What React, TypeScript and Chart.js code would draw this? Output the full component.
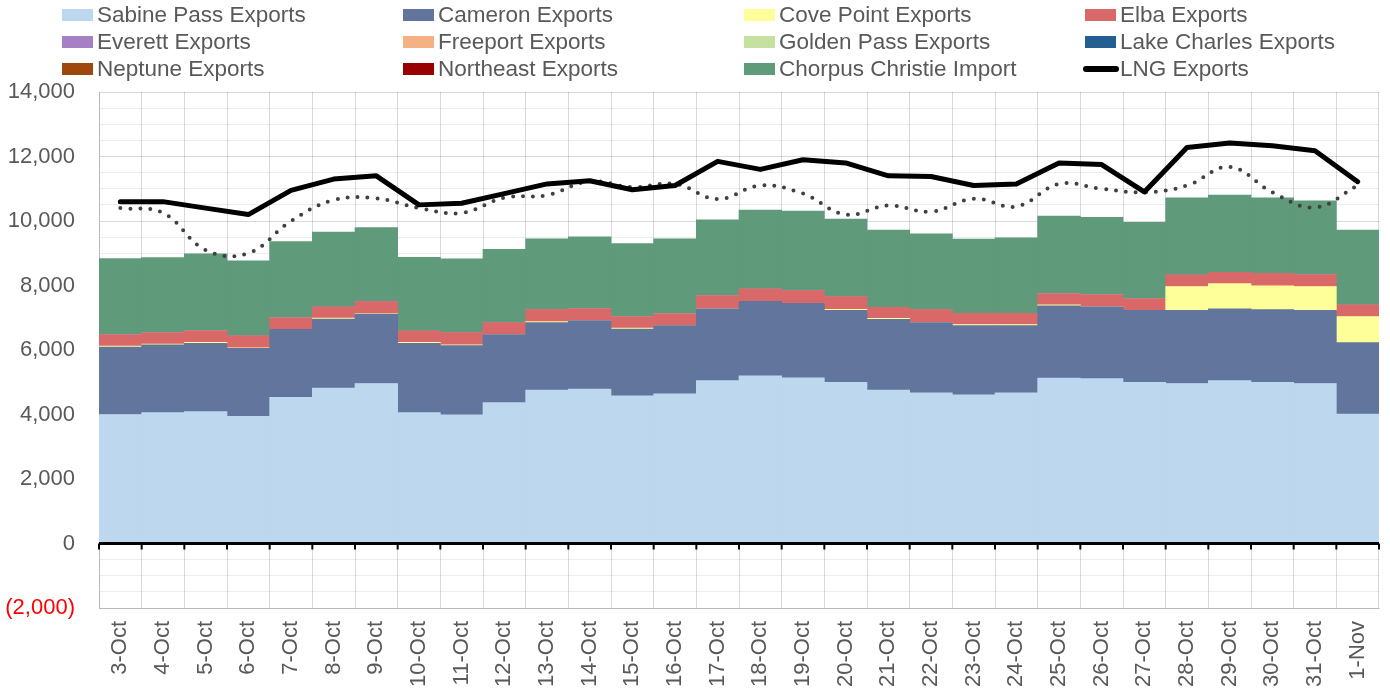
import React, { useEffect, useRef } from 'react';
import { Chart, registerables } from 'chart.js';

Chart.register(...registerables);

const categories = [
  '3-Oct', '4-Oct', '5-Oct', '6-Oct', '7-Oct', '8-Oct', '9-Oct', '10-Oct', '11-Oct', '12-Oct',
  '13-Oct', '14-Oct', '15-Oct', '16-Oct', '17-Oct', '18-Oct', '19-Oct', '20-Oct', '21-Oct', '22-Oct',
  '23-Oct', '24-Oct', '25-Oct', '26-Oct', '27-Oct', '28-Oct', '29-Oct', '30-Oct', '31-Oct', '1-Nov',
];

const sabinePass = [4000, 4060, 4090, 3940, 4530, 4820, 4960, 4060, 3990, 4370, 4760, 4790, 4580, 4640, 5050, 5200, 5140, 5000, 4760, 4670, 4610, 4670, 5130, 5110, 5000, 4960, 5050, 5000, 4960, 4010];
const cameron = [2090, 2100, 2115, 2110, 2110, 2140, 2150, 2145, 2150, 2110, 2090, 2120, 2070, 2120, 2230, 2310, 2310, 2230, 2190, 2180, 2150, 2090, 2240, 2230, 2230, 2270, 2230, 2250, 2270, 2220];
const covePoint = [30, 20, 30, 20, 0, 30, 20, 30, 20, 0, 30, 0, 30, 0, 0, 0, 0, 30, 30, 0, 30, 30, 30, 0, 0, 740, 780, 740, 740, 810];
const elba = [350, 350, 360, 360, 360, 340, 370, 350, 380, 370, 370, 370, 350, 360, 400, 380, 390, 400, 340, 400, 350, 350, 340, 370, 360, 350, 350, 390, 370, 350];
const everett = [0, 0, 0, 0, 0, 0, 0, 0, 0, 0, 0, 0, 0, 0, 0, 0, 0, 0, 0, 0, 0, 0, 0, 0, 0, 0, 0, 0, 0, 0];
const freeport = [0, 0, 0, 0, 0, 0, 0, 0, 0, 0, 0, 0, 0, 0, 0, 0, 0, 0, 0, 0, 0, 0, 0, 0, 0, 0, 0, 0, 0, 0];
const goldenPass = [0, 0, 0, 0, 0, 0, 0, 0, 0, 0, 0, 0, 0, 0, 0, 0, 0, 0, 0, 0, 0, 0, 0, 0, 0, 0, 0, 0, 0, 0];
const lakeCharles = [0, 0, 0, 0, 0, 0, 0, 0, 0, 0, 0, 0, 0, 0, 0, 0, 0, 0, 0, 0, 0, 0, 0, 0, 0, 0, 0, 0, 0, 0];
const neptune = [0, 0, 0, 0, 0, 0, 0, 0, 0, 0, 0, 0, 0, 0, 0, 0, 0, 0, 0, 0, 0, 0, 0, 0, 0, 0, 0, 0, 0, 0];
const northeast = [0, 0, 0, 0, 0, 0, 0, 0, 0, 0, 0, 0, 0, 0, 0, 0, 0, 0, 0, 0, 0, 0, 0, 0, 0, 0, 0, 0, 0, 0];
const chorpusChristie = [2365, 2335, 2390, 2335, 2360, 2330, 2295, 2290, 2285, 2270, 2200, 2230, 2270, 2325, 2360, 2450, 2470, 2400, 2400, 2350, 2300, 2335, 2410, 2400, 2370, 2400, 2390, 2340, 2285, 2330];
const lngExports = [10600, 10600, 10400, 10200, 10950, 11300, 11400, 10500, 10550, 10850, 11150, 11250, 10970, 11100, 11850, 11600, 11900, 11800, 11400, 11380, 11100, 11150, 11800, 11750, 10900, 12280, 12420, 12330, 12180, 11220];
const trendLine = [10400, 10250, 9100, 9000, 10000, 10650, 10700, 10400, 10250, 10720, 10800, 11230, 11050, 11150, 10680, 11100, 10850, 10200, 10480, 10290, 10690, 10450, 11150, 11000, 10890, 11100, 11680, 10890, 10420, 11100];

const yMin = -2000;
const yMax = 14000;
const yStep = 500;
const yLabelStep = 2000;

const barSeries = [
  { name: 'Sabine Pass Exports', data: sabinePass, color: '#BDD7EE' },
  { name: 'Cameron Exports', data: cameron, color: '#62759C' },
  { name: 'Cove Point Exports', data: covePoint, color: '#FFFF99' },
  { name: 'Elba Exports', data: elba, color: '#D96868' },
  { name: 'Everett Exports', data: everett, color: '#A680C4' },
  { name: 'Freeport Exports', data: freeport, color: '#F4B183' },
  { name: 'Golden Pass Exports', data: goldenPass, color: '#C5E0A0' },
  { name: 'Lake Charles Exports', data: lakeCharles, color: '#255E91' },
  { name: 'Neptune Exports', data: neptune, color: '#9E480E' },
  { name: 'Northeast Exports', data: northeast, color: '#990000' },
  { name: 'Chorpus Christie Import', data: chorpusChristie, color: '#5F9A7A' },
];

const FONT = '"Liberation Sans", Arial, Helvetica, sans-serif';
const TEXT_GREY = '#595959';

const fmt = (v: number) => {
  const s = Math.abs(v).toLocaleString('en-US');
  return v < 0 ? `(${s})` : s;
};

const zeroLinePlugin = {
  id: 'zeroLine',
  afterDraw(chart: any) {
    const { ctx, chartArea, scales } = chart;
    const xs = scales.x;
    const y0 = scales.y.getPixelForValue(0);
    const n = categories.length;
    const step = xs.getPixelForValue(1) - xs.getPixelForValue(0);
    ctx.save();
    ctx.strokeStyle = '#000000';
    ctx.lineWidth = 3;
    ctx.beginPath();
    ctx.moveTo(chartArea.left, y0);
    ctx.lineTo(chartArea.right, y0);
    ctx.stroke();
    ctx.lineWidth = 2;
    ctx.beginPath();
    for (let i = 0; i <= n; i++) {
      const x = xs.getPixelForValue(0) - step / 2 + i * step;
      ctx.moveTo(x, y0);
      ctx.lineTo(x, y0 + 6);
    }
    ctx.stroke();
    ctx.restore();
  },
};

const legendItems = [
  ...barSeries.map((s) => ({ name: s.name, color: s.color, line: false })),
  { name: 'LNG Exports', color: '#000000', line: true },
];

export default function App() {
  const canvasRef = useRef<HTMLCanvasElement | null>(null);

  useEffect(() => {
    if (!canvasRef.current) return;
    const datasets: any[] = [
      {
        type: 'line',
        label: 'LNG Exports',
        data: lngExports,
        borderColor: '#000000',
        borderWidth: 5,
        borderCapStyle: 'round',
        borderJoinStyle: 'round',
        pointRadius: 0,
        fill: false,
        tension: 0,
        stack: 'lng',
        order: 0,
      },
      {
        type: 'line',
        label: 'Trend',
        data: trendLine,
        borderColor: '#404040',
        borderWidth: 4,
        borderDash: [0, 10],
        borderCapStyle: 'round',
        pointRadius: 0,
        fill: false,
        tension: 0.4,
        stack: 'trend',
        order: 0,
      },
      ...barSeries.map((s) => ({
        type: 'bar',
        label: s.name,
        data: s.data,
        backgroundColor: s.color,
        borderWidth: 0,
        barPercentage: 1,
        categoryPercentage: 1,
        stack: 'exports',
        order: 1,
      })),
    ];

    const chart = new Chart(canvasRef.current, {
      type: 'bar',
      data: { labels: categories, datasets },
      options: {
        animation: false,
        responsive: true,
        maintainAspectRatio: false,
        layout: { padding: { top: 92, right: 11, left: 0, bottom: 0 } },
        plugins: { legend: { display: false }, tooltip: { enabled: false } },
        scales: {
          x: {
            stacked: true,
            offset: true,
            z: 1,
            grid: { offset: true, color: 'rgba(0,0,0,0.15)', drawTicks: false, lineWidth: 1 },
            border: { display: true, color: 'rgba(0,0,0,0.15)' },
            ticks: {
              autoSkip: false,
              minRotation: 90,
              maxRotation: 90,
              padding: 13,
              color: TEXT_GREY,
              font: { family: FONT, size: 22 },
            },
            afterFit: (s: any) => {
              s.height = 85;
              s.paddingLeft = 0;
              s.paddingRight = 0;
            },
          },
          y: {
            stacked: true,
            min: yMin,
            max: yMax,
            z: 1,
            grid: {
              drawTicks: false,
              color: (ctx: any) => (ctx.tick && ctx.tick.value % yLabelStep === 0 ? 'rgba(0,0,0,0.15)' : 'rgba(0,0,0,0.07)'),
            },
            border: { display: true, color: 'rgba(0,0,0,0.15)' },
            ticks: {
              stepSize: yStep,
              autoSkip: false,
              padding: 24,
              callback: (v: any) => (Number(v) % yLabelStep === 0 ? fmt(Number(v)) : ''),
              color: (ctx: any) => (ctx.tick && ctx.tick.value < 0 ? '#FF0000' : TEXT_GREY),
              font: { family: FONT, size: 22 },
            },
            afterFit: (s: any) => {
              s.width = 99;
              s.paddingTop = 0;
              s.paddingBottom = 0;
            },
          },
        },
      } as any,
      plugins: [zeroLinePlugin],
    });
    return () => chart.destroy();
  }, []);

  return (
    <div style={{ position: 'fixed', left: 0, top: 0, width: 1390, height: 693, background: '#ffffff', fontFamily: FONT }}>
      <canvas ref={canvasRef} style={{ position: 'absolute', left: 0, top: 0, width: 1390, height: 693 }} />
      {legendItems.map((it, i) => {
        const col = i % 4;
        const row = Math.floor(i / 4);
        return (
          <div
            key={it.name}
            style={{
              position: 'absolute',
              left: 62 + col * 341,
              top: 3 + row * 27,
              height: 24,
              display: 'flex',
              alignItems: 'center',
              whiteSpace: 'nowrap',
            }}
          >
            {it.line ? (
              <span style={{ display: 'inline-block', width: 36, height: 6, borderRadius: 3, background: it.color, marginLeft: -2, marginRight: 1 }} />
            ) : (
              <span style={{ display: 'inline-block', width: 31, height: 12, background: it.color, marginRight: 4 }} />
            )}
            <span style={{ fontSize: 22.5, color: TEXT_GREY, lineHeight: '24px' }}>{it.name}</span>
          </div>
        );
      })}
    </div>
  );
}
